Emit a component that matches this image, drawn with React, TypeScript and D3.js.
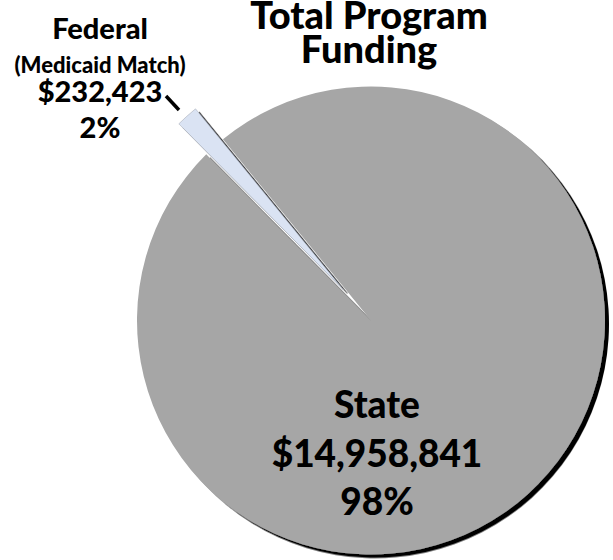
import React from 'react';
import * as d3 from 'd3';

const categories = ['State', 'Federal'];
const subLabels = ['', '(Medicaid Match)'];
const values = [14958841, 232423];
const valueLabels = ['$14,958,841', '$232,423'];
const percentLabels = ['98%', '2%'];
const colors = ['#a6a6a6', '#dae3f3'];
const titleLines = ['Total Program', 'Funding'];

const FONT = "Lato, 'Open Sans', sans-serif";

export default function App() {
  const W = 613, H = 560;
  const cx = 371, cy = 320.5, r = 234;
  const total = d3.sum(values);
  const fedAngle = (values[1] / total) * 2 * Math.PI;
  const midFed = (-42 * Math.PI) / 180;
  const start = midFed + fedAngle / 2;
  const pie = d3.pie<number>().sort(null).startAngle(start).endAngle(start + 2 * Math.PI);
  const arcs = pie(values);
  const arc = d3.arc<d3.PieArcDatum<number>>().innerRadius(0).outerRadius(r);
  const explode = [0, 41];

  return (
    <svg width={W} height={H} style={{ position: 'absolute', left: 0, top: 0, background: '#fff' }}>
      <defs>
        <filter id="shadow" x="-10%" y="-10%" width="120%" height="120%">
          <feDropShadow dx={4} dy={3.5} stdDeviation={0.7} floodColor="#000" floodOpacity={1} />
        </filter>
      </defs>
      <g transform={`translate(${cx},${cy})`}>
        {arcs.map((a, i) => {
          const m = (a.startAngle + a.endAngle) / 2;
          const ox = Math.sin(m) * explode[i];
          const oy = -Math.cos(m) * explode[i];
          return (
            <path
              key={categories[i]}
              d={arc(a) || ''}
              transform={`translate(${ox},${oy})`}
              fill={colors[i]}
              filter="url(#shadow)"
              stroke={i === 1 ? '#8a8f99' : 'none'}
              strokeWidth={i === 1 ? 0.4 : 0}
            />
          );
        })}
      </g>
      <line x1={166} y1={96} x2={179} y2={110} stroke="#000" strokeWidth={3.5} />
      <g fontFamily={FONT} fontWeight={900} fill="#000" textAnchor="middle">
        <text x={369} y={29} fontSize={38}>{titleLines[0]}</text>
        <text x={369} y={63} fontSize={38}>{titleLines[1]}</text>

        <text x={100} y={39} fontSize={29}>{categories[1]}</text>
        <text x={100} y={73} fontSize={22}>{subLabels[1]}</text>
        <text x={100} y={102} fontSize={29}>{valueLabels[1]}</text>
        <text x={100} y={138} fontSize={29}>{percentLabels[1]}</text>

        <text x={377} y={418} fontSize={37}>{categories[0]}</text>
        <text x={377} y={467} fontSize={37}>{valueLabels[0]}</text>
        <text x={377} y={515} fontSize={37}>{percentLabels[0]}</text>
      </g>
    </svg>
  );
}
